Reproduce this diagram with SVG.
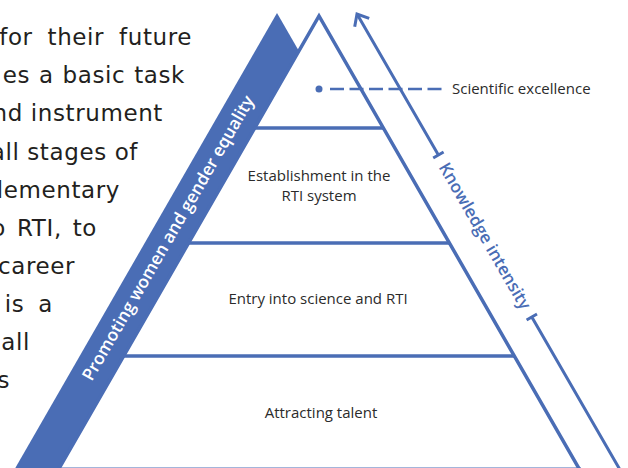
<svg xmlns="http://www.w3.org/2000/svg" width="628" height="468" viewBox="0 0 628 468">
  <style>
    .body { font-family: "DejaVu Sans", "Liberation Sans", sans-serif; font-size: 23px; letter-spacing: 0.6px; fill: #231f20; text-anchor: end; }
    .lbl { font-family: "Open Sans", "Liberation Sans", sans-serif; font-size: 15px; fill: #2b2b2b; text-anchor: middle; }
    .edge { fill: none; stroke: #4a6db5; stroke-width: 3.5; stroke-linejoin: miter; }
    .tier { stroke: #4a6db5; stroke-width: 3.5; }
    .axis { fill: none; stroke: #4a6db5; stroke-width: 3; stroke-linecap: butt; }
    .band-text { font-family: "Open Sans", "Liberation Sans", sans-serif; font-size: 17.3px; font-weight: 600; fill: #ffffff; text-anchor: middle; }
    .axis-text { font-family: "Open Sans", "Liberation Sans", sans-serif; font-size: 17px; font-weight: 600; fill: #4a6db5; text-anchor: middle; }
  </style>

  <!-- running paragraph on the left -->
  <g id="paragraph">
    <text class="body" x="192" y="45" word-spacing="7">for their future</text>
    <text class="body" x="185" y="83" word-spacing="1">es a basic task</text>
    <text class="body" x="163" y="121">nd instrument</text>
    <text class="body" x="138" y="160">all stages of</text>
    <text class="body" x="120" y="198" letter-spacing="0.2">lementary</text>
    <text class="body" x="97" y="236" word-spacing="3">o RTI, to</text>
    <text class="body" x="75" y="274">career</text>
    <text class="body" x="53" y="312" word-spacing="6">is a</text>
    <text class="body" x="30" y="350">all</text>
    <text class="body" x="10" y="388">s</text>
  </g>

  <!-- diagonal band along the left flank -->
  <g id="band">
    <polygon points="277,13 298.9,50.9 57,472 13,472" fill="#4a6db5"/>
    <text class="band-text" transform="translate(168,238) rotate(-60)" dy="0.35em">Promoting women and gender equality</text>
  </g>

  <!-- pyramid outline and tiers -->
  <g id="pyramid">
    <polyline class="edge" points="57,472 319,16 581,472"/>
    <line class="tier" x1="254" y1="128" x2="384" y2="128"/>
    <line class="tier" x1="188" y1="243" x2="450" y2="243"/>
    <line class="tier" x1="123" y1="356" x2="515" y2="356"/>
    <line x1="57" y1="468.5" x2="581" y2="468.5" stroke="#4a6db5" stroke-width="2"/>
  </g>

  <g id="tier-excellence">
    <circle cx="319" cy="89" r="3.5" fill="#4a6db5"/>
    <line x1="330" y1="89" x2="442" y2="89" stroke="#4a6db5" stroke-width="2.5" stroke-dasharray="14 5.5"/>
    <text class="lbl" x="452" y="94" style="text-anchor:start">Scientific excellence</text>
  </g>
  <g id="tier-establishment">
    <text class="lbl" x="319" y="181">Establishment in the</text>
    <text class="lbl" x="319" y="201">RTI system</text>
  </g>
  <g id="tier-entry">
    <text class="lbl" x="318" y="304">Entry into science and RTI</text>
  </g>
  <g id="tier-talent">
    <text class="lbl" x="321" y="418">Attracting talent</text>
  </g>

  <!-- knowledge-intensity axis -->
  <g id="connectors">
    <path class="axis" d="M357,14 L438.4,155 M433.2,158 L443.6,152"/>
    <path class="axis" d="M369.2,18.4 L357,14 L354.7,26.8" stroke-linejoin="miter"/>
    <path class="axis" d="M531.8,317 L623,475 M526.6,320 L537,314"/>
  </g>
  <g id="axis-label">
    <text class="axis-text" transform="translate(485,236) rotate(60)" dy="0.35em">Knowledge intensity</text>
  </g>
</svg>
